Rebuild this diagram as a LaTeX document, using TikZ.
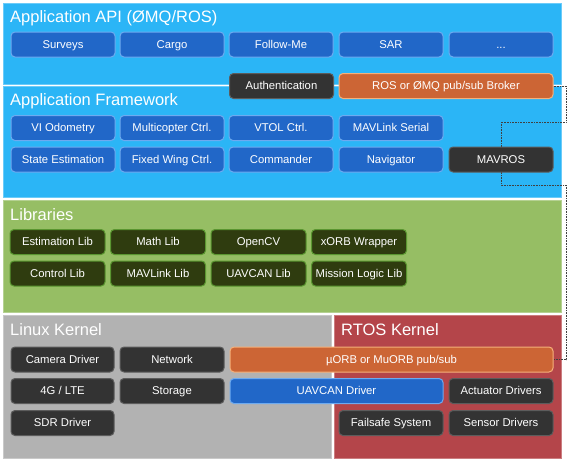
\documentclass[tikz,border=0pt]{standalone}
\usepackage{fontspec}
\setmainfont{Liberation Sans}
\begin{document}
\begin{tikzpicture}[x=1pt,y=-1pt,
  panel/.style={draw=#1!70!white, line width=0.8pt, fill=#1},
  title/.style={anchor=base west, text=white, font=\fontsize{16.5}{18}\selectfont, inner sep=0pt},
  gbox/.style={rounded corners=4pt, line width=1pt, text=white, inner sep=0pt,
     font=\fontsize{11.3}{13}\selectfont, minimum height=25pt, text height=8.1pt, text depth=0.3pt},
  bluebox/.style={gbox, fill=boxblue, draw=boxblueb},
  darkbox/.style={gbox, fill=darkb, draw=darkbd},
  libbox/.style={gbox, fill=libb, draw=libbd},
  orbox/.style={gbox, fill=orb, draw=orbd},
  w104/.style={minimum width=104pt},
  w95/.style={minimum width=95pt},
  dotline/.style={densely dotted, draw=black!75, line width=0.6pt}
]
\definecolor{apiblue}{HTML}{2BB5F6}
\definecolor{boxblue}{HTML}{2167C8}
\definecolor{boxblueb}{HTML}{6DAAF0}
\definecolor{darkb}{HTML}{333333}
\definecolor{darkbd}{HTML}{5C5C5C}
\definecolor{greenp}{HTML}{96BE64}
\definecolor{libb}{HTML}{2F3C0F}
\definecolor{libbd}{HTML}{5A9630}
\definecolor{grayp}{HTML}{B2B2B2}
\definecolor{redp}{HTML}{B4454A}
\definecolor{orb}{HTML}{CC6535}
\definecolor{orbd}{HTML}{F5B07A}
\useasboundingbox[fill=white] (0,0) rectangle (570,463);

% panels
\path[panel=apiblue] (3,3) rectangle (561,84);
\path[panel=apiblue] (3,86) rectangle (561,197);
\path[panel=greenp] (3,200) rectangle (561,312);
\path[panel=grayp] (3,315) rectangle (331,458);
\path[panel=redp] (334,315) rectangle (561,458);

% titles
\node[title] (tapi) at (10,22) {Application API (ØMQ/ROS)};
\node[title] (tfw) at (10,105) {Application Framework};
\node[title] (tlib) at (10,220) {Libraries};
\node[title] (tlin) at (10,335) {Linux Kernel};
\node[title] (trtos) at (341,335) {RTOS Kernel};

% dotted connector (behind boxes)
\coordinate (c1) at (566,122);
\coordinate (c2) at (501,122);
\coordinate (c3) at (501,185);
\coordinate (c4) at (566,185);

% API row
\node[bluebox,w104] (surveys) at (63,44.5) {Surveys};
\node[bluebox,w104] (cargo) at (172,44.5) {Cargo};
\node[bluebox,w104] (follow) at (281,44.5) {Follow-Me};
\node[bluebox,w104] (sar) at (391,44.5) {SAR};
\node[bluebox,w104] (dots) at (501,44.5) {...};

\node[darkbox,w104] (auth) at (281.5,86) {Authentication};
\node[orbox,minimum width=214pt] (broker) at (446,86) {ROS or ØMQ pub/sub Broker};

% Framework
\node[bluebox,w104] (vio) at (63,128) {VI Odometry};
\node[bluebox,w104] (mc) at (172,128) {Multicopter Ctrl.};
\node[bluebox,w104] (vtol) at (281,128) {VTOL Ctrl.};
\node[bluebox,w104] (mavser) at (391,128) {MAVLink Serial};
\node[bluebox,w104] (state) at (63,159.5) {State Estimation};
\node[bluebox,w104] (fw) at (172,159.5) {Fixed Wing Ctrl.};
\node[bluebox,w104] (cmd) at (281,159.5) {Commander};
\node[bluebox,w104] (nav) at (391,159.5) {Navigator};

% Linux / RTOS
\node[orbox,minimum width=323pt] (uorb) at (391.5,359.5) {µORB or MuORB pub/sub};

\draw[dotline] (broker.east) -| (c1) -- (c2) -- (c3) -- (c4) |- (uorb.east);

\node[darkbox,w104] (mavros) at (501,159.5) {MAVROS};

% Libraries
\node[libbox,w95] (est) at (57.5,242) {Estimation Lib};
\node[libbox,w95] (math) at (158,242) {Math Lib};
\node[libbox,w95] (ocv) at (258.5,242) {OpenCV};
\node[libbox,w95] (xorb) at (359,242) {xORB Wrapper};
\node[libbox,w95] (ctrl) at (57.5,273.5) {Control Lib};
\node[libbox,w95] (mavlib) at (158,273.5) {MAVLink Lib};
\node[libbox,w95] (uavlib) at (258.5,273.5) {UAVCAN Lib};
\node[libbox,w95] (mission) at (359,273.5) {Mission Logic Lib};

\node[darkbox,minimum width=103pt] (cam) at (62.5,359.5) {Camera Driver};
\node[darkbox,w104] (net) at (172,359.5) {Network};
\node[darkbox,minimum width=103pt] (lte) at (62.5,391) {4G / LTE};
\node[darkbox,w104] (stor) at (172,391) {Storage};
\node[darkbox,minimum width=103pt] (sdr) at (62.5,423) {SDR Driver};

\node[bluebox,minimum width=213pt] (uavdrv) at (336.5,391) {UAVCAN Driver};
\node[darkbox,w104] (act) at (501,391) {Actuator Drivers};
\node[darkbox,w104] (fail) at (391,423) {Failsafe System};
\node[darkbox,w104] (sens) at (501,423) {Sensor Drivers};
\end{tikzpicture}
\end{document}
